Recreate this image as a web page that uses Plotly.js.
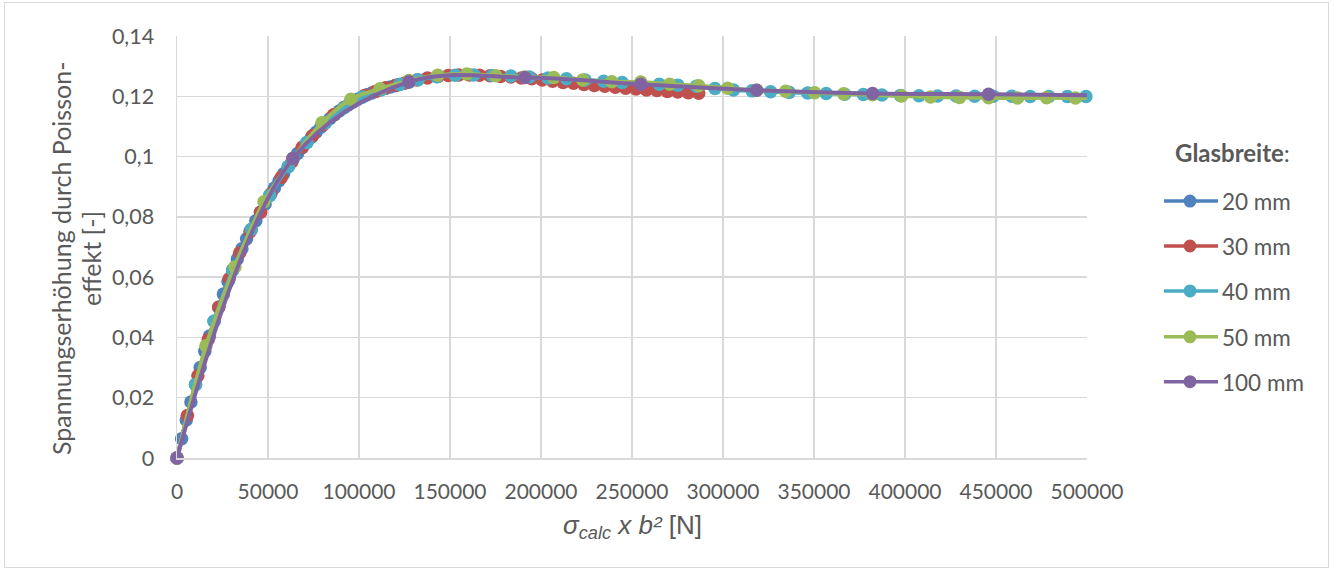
<!DOCTYPE html>
<html><head><meta charset="utf-8">
<script src="https://cdn.plot.ly/plotly-3.0.1.min.js"></script>
<style>
html,body{margin:0;padding:0;background:#fff;}
#chart{position:absolute;left:0;top:0;width:1335px;height:572px;}
#frame{position:absolute;left:4px;top:2px;width:1323px;height:564px;border:1px solid #d9d9d9;pointer-events:none;}
</style>
</head><body>
<div id="chart"></div><div id="frame"></div>
<script>
// σ_calc steps [N/mm²] (shared by all series)
const sigma = [0, 6.37, 12.74, 19.11, 25.48, 31.85, 38.22, 44.59, 50.96, 57.33, 63.7, 70.07, 76.44, 82.81, 89.18, 95.55, 101.92, 108.29, 114.66, 121.03, 127.4, 133.77, 140.14, 146.51, 152.88, 159.25, 165.62, 171.99, 178.36, 184.73, 191.1, 197.47, 203.84, 210.21, 216.58, 222.95, 229.32, 235.69, 242.06, 248.43, 254.8, 261.17, 267.54, 273.91, 280.28, 286.65, 293.02, 299.39, 305.76, 312.13, 318.5];

const seriesNames = ['20 mm', '30 mm', '40 mm', '50 mm', '100 mm'];
const glassWidths = [20, 30, 40, 50, 100]; // b [mm]
const colors = ['#4F81BD', '#C0504D', '#4BACC6', '#9BBB59', '#8064A2'];

const y20 = [0, 0.0064, 0.0126, 0.0186, 0.0244, 0.0300, 0.0354, 0.0405, 0.0454, 0.0500, 0.0544, 0.0585, 0.0624, 0.0660, 0.0694, 0.0727, 0.0758, 0.0787, 0.0815, 0.0843, 0.0871, 0.0896, 0.0920, 0.0943, 0.0967, 0.0990, 0.1010, 0.1029, 0.1047, 0.1064, 0.1081, 0.1097, 0.1112, 0.1126, 0.1139, 0.1151, 0.1162, 0.1172, 0.1181, 0.1190, 0.1198, 0.1205, 0.1211, 0.1217, 0.1222, 0.1227, 0.1231, 0.1235, 0.1239, 0.1243, 0.1247];
const y30 = [0, 0.0141, 0.0273, 0.0393, 0.0500, 0.0595, 0.0680, 0.0751, 0.0815, 0.0877, 0.0931, 0.0982, 0.1031, 0.1070, 0.1106, 0.1139, 0.1163, 0.1185, 0.1203, 0.1216, 0.1228, 0.1237, 0.1246, 0.1254, 0.1261, 0.1266, 0.1269, 0.1271, 0.1271, 0.1270, 0.1268, 0.1266, 0.1264, 0.1261, 0.1258, 0.1254, 0.1250, 0.1246, 0.1243, 0.1239, 0.1236, 0.1233, 0.1230, 0.1227, 0.1224, 0.1221, 0.1219, 0.1216, 0.1214, 0.1212, 0.1210];
const y40 = [0, 0.0244, 0.0454, 0.0624, 0.0758, 0.0871, 0.0967, 0.1047, 0.1112, 0.1162, 0.1198, 0.1222, 0.1239, 0.1255, 0.1265, 0.1270, 0.1271, 0.1269, 0.1267, 0.1264, 0.1261, 0.1258, 0.1254, 0.1250, 0.1246, 0.1243, 0.1240, 0.1237, 0.1233, 0.1226, 0.1221, 0.1218, 0.1215, 0.1213, 0.1211, 0.1209, 0.1207, 0.1206, 0.1204, 0.1203, 0.1202, 0.1201, 0.1201, 0.1200, 0.1200, 0.1200, 0.1199, 0.1199, 0.1199, 0.1199, 0.1199];
const y50 = [0, 0.0372, 0.0634, 0.0850, 0.0994, 0.1112, 0.1190, 0.1225, 0.1252, 0.1270, 0.1274, 0.1268, 0.1264, 0.1262, 0.1254, 0.1248, 0.1247, 0.1240, 0.1235, 0.1227, 0.1220, 0.1217, 0.1212, 0.1208, 0.1205, 0.1201, 0.1198, 0.1196, 0.1195, 0.1194, 0.1195, 0.1194, 0.1194];
const y100 = [0, 0.0994, 0.1248, 0.1262, 0.1240, 0.1220, 0.1209, 0.1207, 0.1203];

const yValues = [y20, y30, y40, y50, y100];

const xTickVals = [0, 50000, 100000, 150000, 200000, 250000, 300000, 350000, 400000, 450000, 500000];
const X_MAX = 500000, Y_MAX = 0.14;

const FONT = 'Lato, "Noto Sans", sans-serif';
const GREY = '#595959';

const traces = yValues.map((ys, i) => {
  const b2 = glassWidths[i] * glassWidths[i];
  const xs = ys.map((_, k) => sigma[k] * b2);
  return {
    type: 'scatter',
    mode: 'lines+markers',
    name: seriesNames[i],
    x: xs,
    y: ys,
    line: {color: colors[i], width: 4, shape: 'spline', smoothing: 1},
    // markers beyond the axis maximum are hidden (Excel clips them)
    marker: {color: colors[i], opacity: 1, size: xs.map(v => v <= X_MAX ? 13.5 : 0), line: {width: 0, color: colors[i]}},
    showlegend: false,
    cliponaxis: false
  };
});

// plot-area pixel helpers for the custom legend / titles
const L = 177, R = 1087, T = 35.5, B = 458.5;
const px = v => (v - L) / (R - L);
const py = v => (B - v) / (B - T);

const shapes = [];
const annotations = [];
const legendY = [201, 246, 291, 337, 382];
seriesNames.forEach((n, i) => {
  shapes.push({type: 'line', xref: 'paper', yref: 'paper', x0: px(1164), x1: px(1218), y0: py(legendY[i]), y1: py(legendY[i]),
               line: {color: colors[i], width: 3.5}});
  shapes.push({type: 'circle', xref: 'paper', yref: 'paper', xsizemode: 'pixel', ysizemode: 'pixel',
               xanchor: px(1190), yanchor: py(legendY[i]), x0: -6.5, x1: 6.5, y0: -6.5, y1: 6.5,
               fillcolor: colors[i], line: {width: 0}});
  annotations.push({xref: 'paper', yref: 'paper', x: px(1220), y: py(legendY[i] + 0.5), xanchor: 'left', yanchor: 'middle',
                    text: n, showarrow: false, font: {family: FONT, size: 22.5, color: GREY}});
});
annotations.push({xref: 'paper', yref: 'paper', x: px(1173), y: py(152), xanchor: 'left', yanchor: 'middle',
                  text: '<b>Glasbreite</b>:', showarrow: false, font: {family: FONT, size: 24, color: GREY}});
// y-axis title (two lines)
annotations.push({xref: 'paper', yref: 'paper', x: px(61), y: py(259), xanchor: 'center', yanchor: 'middle', textangle: -90,
                  text: 'Spannungserhöhung durch Poisson-', showarrow: false, font: {family: FONT, size: 25, color: GREY}});
annotations.push({xref: 'paper', yref: 'paper', x: px(91), y: py(259), xanchor: 'center', yanchor: 'middle', textangle: -90,
                  text: 'effekt [-]', showarrow: false, font: {family: FONT, size: 25, color: GREY}});
// x-axis title
annotations.push({xref: 'paper', yref: 'paper', x: px(632), y: py(527), xanchor: 'center', yanchor: 'middle',
                  text: '<i>σ<sub>calc</sub> x b²</i> [N]', showarrow: false,
                  font: {family: '"Liberation Sans", Arial, sans-serif', size: 26, color: GREY}});

const layout = {
  width: 1335, height: 572,
  margin: {l: L, r: 1335 - R, t: T, b: 572 - B, pad: 0},
  paper_bgcolor: '#ffffff', plot_bgcolor: '#ffffff',
  separators: ', ',
  showlegend: false,
  xaxis: {
    range: [0, X_MAX], tickvals: xTickVals, tickformat: 'd',
    showgrid: true, gridcolor: '#d9d9d9', gridwidth: 1.5,
    showline: true, linecolor: '#d9d9d9', linewidth: 1.5,
    zeroline: false, ticks: '', ticklabelstandoff: 14,
    tickfont: {family: FONT, size: 21, color: GREY}
  },
  yaxis: {
    range: [0, Y_MAX], dtick: 0.02, tick0: 0,
    showgrid: true, gridcolor: '#d9d9d9', gridwidth: 1.5,
    showline: true, linecolor: '#d9d9d9', linewidth: 1.5,
    zeroline: false, ticks: '', ticklabelstandoff: 17,
    tickfont: {family: FONT, size: 21.5, color: GREY}
  },
  shapes: shapes,
  annotations: annotations
};

Plotly.newPlot('chart', traces, layout, {staticPlot: true, displayModeBar: false});
</script>
</body></html>
